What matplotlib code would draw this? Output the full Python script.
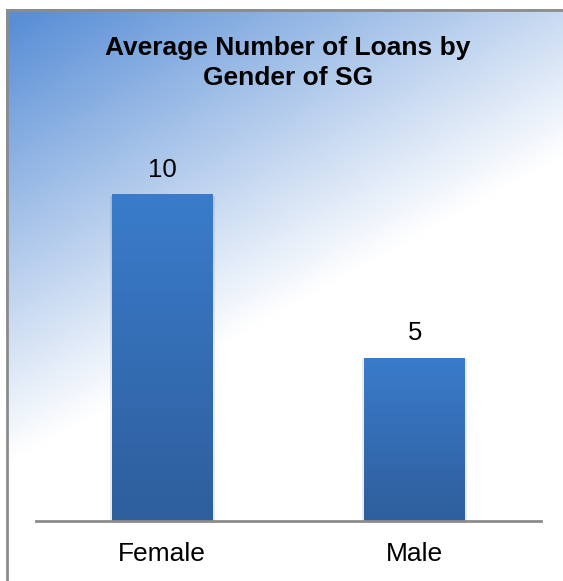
import matplotlib
matplotlib.use('Agg')
import matplotlib.pyplot as plt
import numpy as np
from matplotlib.colors import LinearSegmentedColormap

categories = ["Female", "Male"]
avg_loans = [10, 5]
title = "Average Number of Loans by\nGender of SG"

W, H = 563, 581
fig = plt.figure(figsize=(W / 100, H / 100), dpi=100)
plt.rcParams['font.family'] = ['Liberation Sans', 'DejaVu Sans']

# background: diagonal blue -> white gradient inside the frame
bg = fig.add_axes([0, 0, 1, 1])
bg.set_xlim(0, W)
bg.set_ylim(H, 0)
bg.axis('off')
xx, yy = np.meshgrid(np.arange(W), np.arange(H))
s = ((xx - 6) * 300 + (yy - 9) * 540) / 242340.0
s = np.clip(s, 0, 1)
dark = np.array([88, 142, 214]) / 255.0
white = np.array([1.0, 1.0, 1.0])
img = dark[None, None, :] * (1 - s[..., None]) + white[None, None, :] * s[..., None]
bg.imshow(img, extent=[6, W, H, 9], aspect='auto', zorder=0)
bg.plot([6.5, 6.5], [9.5, H], color='#8c8c8c', lw=2, zorder=1)
bg.plot([6.5, W], [9.5, 9.5], color='#8c8c8c', lw=2, zorder=1)

ax = fig.add_axes([36 / W, 60 / H, 505 / W, 392 / H])
ax.patch.set_alpha(0)
bars = ax.bar(range(len(categories)), avg_loans, width=0.40, color='none',
              edgecolor='none', zorder=3)

cmap = LinearSegmentedColormap.from_list('bar', ['#2e5e9c', '#3a7ccb'])
grad = np.linspace(0, 1, 256).reshape(-1, 1)
for b in bars:
    x0, y0 = b.get_x(), b.get_y()
    w, h = b.get_width(), b.get_height()
    # soft shadow
    ax.bar(x0 + w / 2, h + 0.05, width=w + 0.016, bottom=-0.1, color='#000000',
           alpha=0.08, zorder=2)
    im = ax.imshow(grad, extent=[x0, x0 + w, y0, y0 + h], origin='lower',
                   cmap=cmap, aspect='auto', zorder=4)
    im.set_clip_path(b)
    ax.annotate(str(int(h)), (x0 + w / 2, h), xytext=(0, 9),
                textcoords='offset points', ha='center', va='bottom', fontsize=18.5)

ax.set_xlim(-0.5, len(categories) - 0.5)
ax.set_ylim(0, 12)
ax.set_xticks(range(len(categories)))
ax.set_xticklabels(categories, fontsize=19)
ax.tick_params(axis='x', length=0, pad=15)
ax.set_yticks([])
for sp in ['top', 'right', 'left']:
    ax.spines[sp].set_visible(False)
ax.spines['bottom'].set_color('#8c8c8c')
ax.spines['bottom'].set_linewidth(2)
ax.spines['bottom'].set_zorder(5)

fig.text(288 / W, 1 - 63 / H, title, ha='center', va='center', fontsize=19,
         fontweight='bold', linespacing=1.28)

fig.savefig('out.png', dpi=100)
